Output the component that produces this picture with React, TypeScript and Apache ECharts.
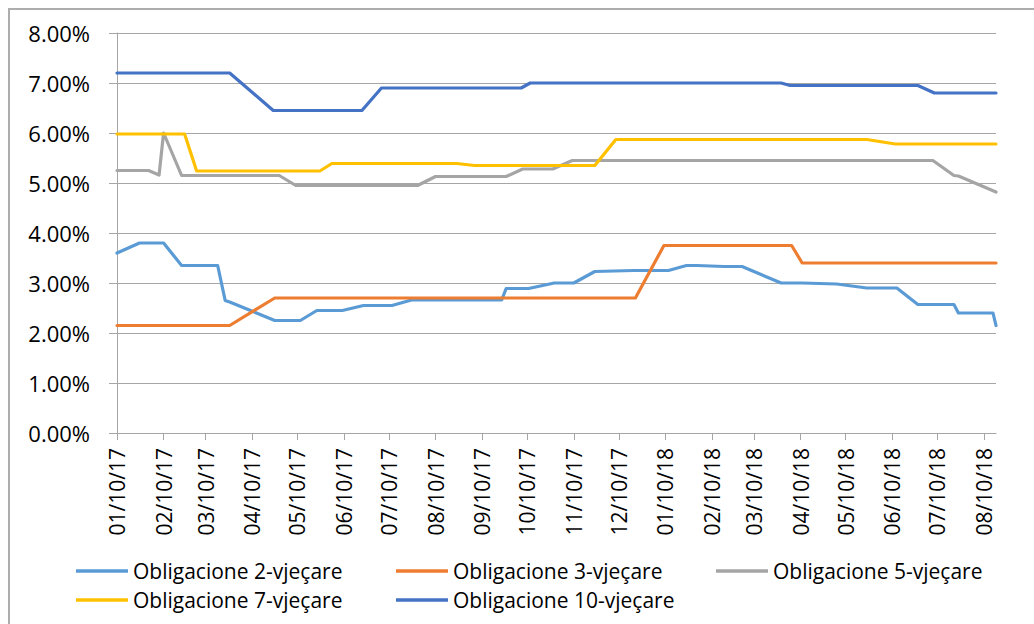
import React, { useEffect, useRef } from "react";
import * as echarts from "echarts";

const tickLabels = [
  "01/10/17", "02/10/17", "03/10/17", "04/10/17", "05/10/17", "06/10/17",
  "07/10/17", "08/10/17", "09/10/17", "10/10/17", "11/10/17", "12/10/17",
  "01/10/18", "02/10/18", "03/10/18", "04/10/18", "05/10/18", "06/10/18",
  "07/10/18", "08/10/18",
];
const startDate = "2017-01-10";
const endDate = "2018-08-18";

const seriesNames = [
  "Obligacione 2-vjeçare",
  "Obligacione 3-vjeçare",
  "Obligacione 5-vjeçare",
  "Obligacione 7-vjeçare",
  "Obligacione 10-vjeçare",
];
const seriesColors = ["#5B9BD5", "#ED7D31", "#A5A5A5", "#FFC000", "#4472C4"];

const bond2y: [string, number][] = [
  ["2017-01-10", 3.6], ["2017-01-25", 3.8], ["2017-02-10", 3.8], ["2017-02-22", 3.35],
  ["2017-03-18", 3.35], ["2017-03-23", 2.65], ["2017-03-26", 2.62], ["2017-04-25", 2.25],
  ["2017-05-12", 2.25], ["2017-05-23", 2.45], ["2017-06-09", 2.45], ["2017-06-23", 2.55],
  ["2017-07-12", 2.55], ["2017-07-25", 2.66], ["2017-09-23", 2.66], ["2017-09-26", 2.89],
  ["2017-10-11", 2.89], ["2017-10-28", 3.0], ["2017-11-10", 3.0], ["2017-11-24", 3.23],
  ["2017-12-20", 3.25], ["2018-01-12", 3.25], ["2018-01-24", 3.35], ["2018-01-31", 3.35],
  ["2018-02-18", 3.33], ["2018-03-02", 3.33], ["2018-03-28", 3.0], ["2018-04-11", 3.0],
  ["2018-05-04", 2.98], ["2018-05-24", 2.9], ["2018-06-13", 2.9], ["2018-06-27", 2.57],
  ["2018-07-21", 2.57], ["2018-07-24", 2.4], ["2018-08-16", 2.4], ["2018-08-18", 2.15],
];
const bond3y: [string, number][] = [
  ["2017-01-10", 2.15], ["2017-03-26", 2.15], ["2017-04-25", 2.7], ["2017-12-21", 2.7],
  ["2018-01-09", 3.75], ["2018-04-04", 3.75], ["2018-04-11", 3.4], ["2018-08-18", 3.4],
];
const bond5y: [string, number][] = [
  ["2017-01-10", 5.25], ["2017-01-31", 5.25], ["2017-02-07", 5.16], ["2017-02-10", 6.0],
  ["2017-02-22", 5.15], ["2017-04-28", 5.15], ["2017-05-09", 4.95], ["2017-07-29", 4.95],
  ["2017-08-10", 5.13], ["2017-09-26", 5.13], ["2017-10-07", 5.28], ["2017-10-27", 5.28],
  ["2017-11-09", 5.45], ["2018-07-07", 5.45], ["2018-07-21", 5.15], ["2018-07-24", 5.14],
  ["2018-08-18", 4.82],
];
const bond7y: [string, number][] = [
  ["2017-01-10", 5.98], ["2017-02-24", 5.98], ["2017-03-04", 5.24], ["2017-05-25", 5.24],
  ["2017-06-02", 5.39], ["2017-08-24", 5.39], ["2017-09-05", 5.35], ["2017-11-24", 5.35],
  ["2017-12-08", 5.87], ["2018-05-24", 5.87], ["2018-06-12", 5.78], ["2018-08-18", 5.78],
];
const bond10y: [string, number][] = [
  ["2017-01-10", 7.2], ["2017-03-26", 7.2], ["2017-04-24", 6.45], ["2017-06-22", 6.45],
  ["2017-07-05", 6.9], ["2017-10-06", 6.9], ["2017-10-12", 7.0], ["2018-03-28", 7.0],
  ["2018-04-03", 6.95], ["2018-06-27", 6.95], ["2018-07-08", 6.8], ["2018-08-18", 6.8],
];
const allSeries = [bond2y, bond3y, bond5y, bond7y, bond10y];

const FONT = "'Open Sans', 'Noto Sans', sans-serif";

function parseIso(s: string): number {
  const [y, m, d] = s.split("-").map(Number);
  return Date.UTC(y, m - 1, d);
}
function parseTick(s: string): number {
  const [m, d, y] = s.split("/").map(Number);
  return Date.UTC(2000 + y, m - 1, d);
}
function pad(n: number): string {
  return n < 10 ? "0" + n : String(n);
}
function fmtTick(v: number): string {
  const dt = new Date(v);
  return pad(dt.getUTCMonth() + 1) + "/" + pad(dt.getUTCDate()) + "/" + pad(dt.getUTCFullYear() % 100);
}

export default function App() {
  const ref = useRef<HTMLDivElement>(null);
  useEffect(() => {
    if (!ref.current) return;
    const chart = echarts.init(ref.current, undefined, { renderer: "svg" });
    const tickValues = tickLabels.map(parseTick);
    const option: any = {
      animation: false,
      backgroundColor: "#ffffff",
      textStyle: { fontFamily: FONT },
      graphic: [
        {
          type: "rect",
          shape: { x: 9, y: 9, width: 1100, height: 700 },
          style: { fill: "none", stroke: "#ADADAD", lineWidth: 2 },
          silent: true,
        },
      ],
      grid: { left: 117, right: 38, top: 33, bottom: 191 },
      xAxis: {
        type: "value",
        min: parseIso(startDate),
        max: parseIso(endDate),
        axisLine: { show: true, lineStyle: { color: "#A6A6A6", width: 1 } },
        axisTick: {
          show: true,
          length: 7,
          customValues: tickValues,
          lineStyle: { color: "#A6A6A6" },
        },
        axisLabel: {
          customValues: tickValues,
          rotate: 90,
          margin: 15,
          fontSize: 21,
          color: "#000",
          fontFamily: FONT,
          formatter: (v: number) => fmtTick(v),
        },
        splitLine: { show: false },
      },
      yAxis: {
        type: "value",
        min: 0,
        max: 8,
        interval: 1,
        axisLine: { show: true, lineStyle: { color: "#A6A6A6", width: 1 } },
        axisTick: { show: true, length: 8, lineStyle: { color: "#A6A6A6" } },
        axisLabel: {
          margin: 27,
          fontSize: 22,
          color: "#000",
          fontFamily: FONT,
          formatter: (v: number) => v.toFixed(2) + "%",
        },
        splitLine: { show: true, lineStyle: { color: "#A6A6A6", width: 1 } },
      },
      legend: {
        left: 76,
        top: 559,
        width: 960,
        padding: 0,
        itemGap: 5,
        itemWidth: 52,
        itemHeight: 3.5,
        icon: "rect",
        data: seriesNames,
        textStyle: {
          fontSize: 21,
          color: "#000",
          fontFamily: FONT,
          width: 258,
          lineHeight: 24,
        },
      },
      series: allSeries.map((pts, i) => ({
        name: seriesNames[i],
        type: "line",
        symbol: "none",
        color: seriesColors[i],
        lineStyle: { width: 3.2, color: seriesColors[i], cap: "round", join: "round" },
        data: pts.map(([d, v]) => [parseIso(d), v]),
        z: 2 + i,
      })),
    };
    chart.setOption(option);
    return () => chart.dispose();
  }, []);
  return (
    <div
      ref={ref}
      style={{ position: "absolute", left: 0, top: 0, width: 1034, height: 624 }}
    />
  );
}
